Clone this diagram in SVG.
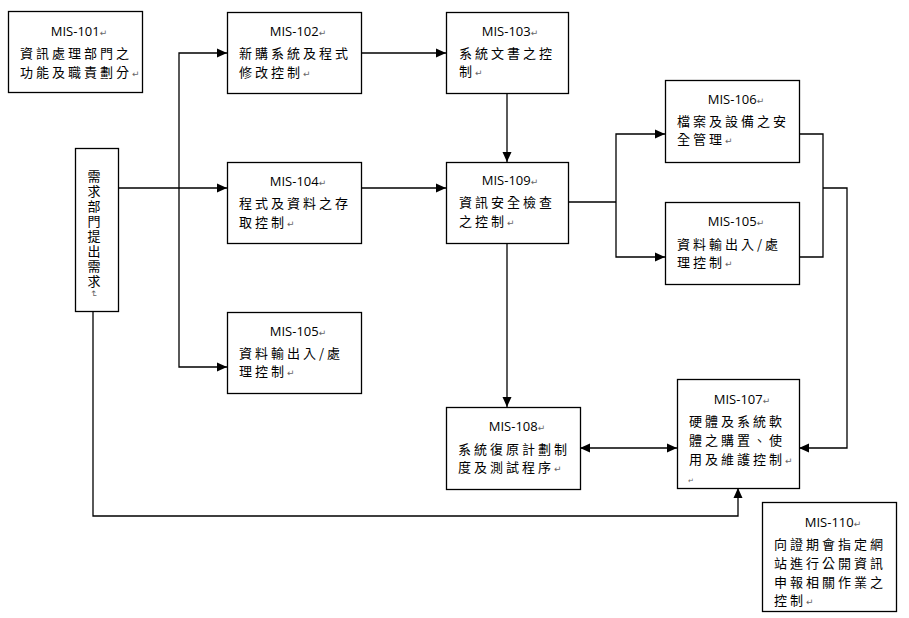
<svg xmlns="http://www.w3.org/2000/svg" width="909" height="618" viewBox="0 0 909 618">
<style>
.box{fill:#fff;stroke:#000;stroke-width:1.3}
.lbl{font-family:"Open Sans","Noto Sans",sans-serif;font-size:13px;fill:#000;text-anchor:middle}
.cj{font-family:"Noto Sans CJK TC","Noto Sans CJK SC",sans-serif;font-size:13px;letter-spacing:3px;fill:#000}
.m{font-family:"DejaVu Sans",sans-serif;font-size:9px;fill:#666;letter-spacing:0}
.ln{fill:none;stroke:#000;stroke-width:1.3}
</style>
<defs>
<marker id="a" markerUnits="userSpaceOnUse" markerWidth="11" markerHeight="10" refX="10" refY="5" orient="auto-start-reverse"><path d="M0,0.5 L10,5 L0,9.5 z" fill="#000"/></marker>
</defs>
<g id="connectors">
<path class="ln" d="M119,188 H227" marker-end="url(#a)"/>
<path class="ln" d="M179,188 V53 H227" marker-end="url(#a)"/>
<path class="ln" d="M179,188 V367 H227" marker-end="url(#a)"/>
<path class="ln" d="M362,53 H446" marker-end="url(#a)"/>
<path class="ln" d="M507,93 V162" marker-end="url(#a)"/>
<path class="ln" d="M362,188 H446" marker-end="url(#a)"/>
<path class="ln" d="M568,202 H616"/>
<path class="ln" d="M616,202 V134 H665" marker-end="url(#a)"/>
<path class="ln" d="M616,202 V257 H665" marker-end="url(#a)"/>
<path class="ln" d="M799,134 H823 V257 H799"/>
<path class="ln" d="M823,188 H847 V448 H799" marker-end="url(#a)"/>
<path class="ln" d="M507,243 V407" marker-end="url(#a)"/>
<path class="ln" d="M580,448 H677" marker-start="url(#a)" marker-end="url(#a)"/>
<path class="ln" d="M93,312 V516 H738 V488" marker-end="url(#a)"/>
</g>
<g id="mis101">
<rect class="box" x="8.5" y="11.5" width="134" height="81"/>
<text class="lbl" x="79" y="36">MIS-101<tspan class="m">↵</tspan></text>
<text class="cj" x="20" y="58">資訊處理部門之</text>
<text class="cj" x="20" y="77">功能及職責劃分<tspan class="m">↵</tspan></text>
</g>
<g id="mis102">
<rect class="box" x="227.5" y="12.5" width="134" height="81"/>
<text class="lbl" x="298" y="36">MIS-102<tspan class="m">↵</tspan></text>
<text class="cj" x="239" y="58">新購系統及程式</text>
<text class="cj" x="239" y="77">修改控制<tspan class="m">↵</tspan></text>
</g>
<g id="mis103">
<rect class="box" x="446.5" y="12.5" width="122" height="81"/>
<text class="lbl" x="510" y="36">MIS-103<tspan class="m">↵</tspan></text>
<text class="cj" x="459" y="58">系統文書之控</text>
<text class="cj" x="459" y="76">制<tspan class="m">↵</tspan></text>
</g>
<g id="mis109">
<rect class="box" x="446.5" y="162.5" width="122" height="81"/>
<text class="lbl" x="510" y="185">MIS-109<tspan class="m">↵</tspan></text>
<text class="cj" x="459" y="207">資訊安全檢查</text>
<text class="cj" x="459" y="226">之控制<tspan class="m">↵</tspan></text>
</g>
<g id="mis106">
<rect class="box" x="665.5" y="80.5" width="134" height="82"/>
<text class="lbl" x="736" y="104">MIS-106<tspan class="m">↵</tspan></text>
<text class="cj" x="677" y="126">檔案及設備之安</text>
<text class="cj" x="677" y="144">全管理<tspan class="m">↵</tspan></text>
</g>
<g id="mis105b">
<rect class="box" x="665.5" y="202.5" width="134" height="82"/>
<text class="lbl" x="736" y="226">MIS-105<tspan class="m">↵</tspan></text>
<text class="cj" x="677" y="249">資料輸出入/處</text>
<text class="cj" x="677" y="267">理控制<tspan class="m">↵</tspan></text>
</g>
<g id="need">
<rect class="box" x="75.5" y="148.5" width="43" height="163"/>
<text class="cj" x="94" y="170" writing-mode="vertical-rl" style="letter-spacing:2px">需求部門提出需求<tspan class="m">↵</tspan></text>
</g>
<g id="mis104">
<rect class="box" x="227.5" y="162.5" width="134" height="81"/>
<text class="lbl" x="298" y="186">MIS-104<tspan class="m">↵</tspan></text>
<text class="cj" x="239" y="208">程式及資料之存</text>
<text class="cj" x="239" y="227">取控制<tspan class="m">↵</tspan></text>
</g>
<g id="mis105a">
<rect class="box" x="227.5" y="312.5" width="134" height="81"/>
<text class="lbl" x="298" y="336">MIS-105<tspan class="m">↵</tspan></text>
<text class="cj" x="239" y="358">資料輸出入/處</text>
<text class="cj" x="239" y="376">理控制<tspan class="m">↵</tspan></text>
</g>
<g id="mis108">
<rect class="box" x="446.5" y="407.5" width="134" height="82"/>
<text class="lbl" x="517" y="431">MIS-108<tspan class="m">↵</tspan></text>
<text class="cj" x="458" y="454">系統復原計劃制</text>
<text class="cj" x="458" y="472">度及測試程序<tspan class="m">↵</tspan></text>
</g>
<g id="mis107">
<rect class="box" x="677.5" y="379.5" width="122" height="109"/>
<text class="lbl" x="742" y="404">MIS-107<tspan class="m">↵</tspan></text>
<text class="cj" x="689" y="426">硬體及系統軟</text>
<text class="cj" x="689" y="445">體之購置、使</text>
<text class="cj" x="689" y="464">用及維護控制<tspan class="m">↵</tspan></text>
<text class="m" x="688" y="483" style="font-size:7px">↵</text>
</g>
<g id="mis110">
<rect class="box" x="762.5" y="502.5" width="134" height="109"/>
<text class="lbl" x="833" y="527">MIS-110<tspan class="m">↵</tspan></text>
<text class="cj" x="774" y="549">向證期會指定網</text>
<text class="cj" x="774" y="568">站進行公開資訊</text>
<text class="cj" x="774" y="587">申報相關作業之</text>
<text class="cj" x="774" y="605">控制<tspan class="m">↵</tspan></text>
</g>
</svg>
